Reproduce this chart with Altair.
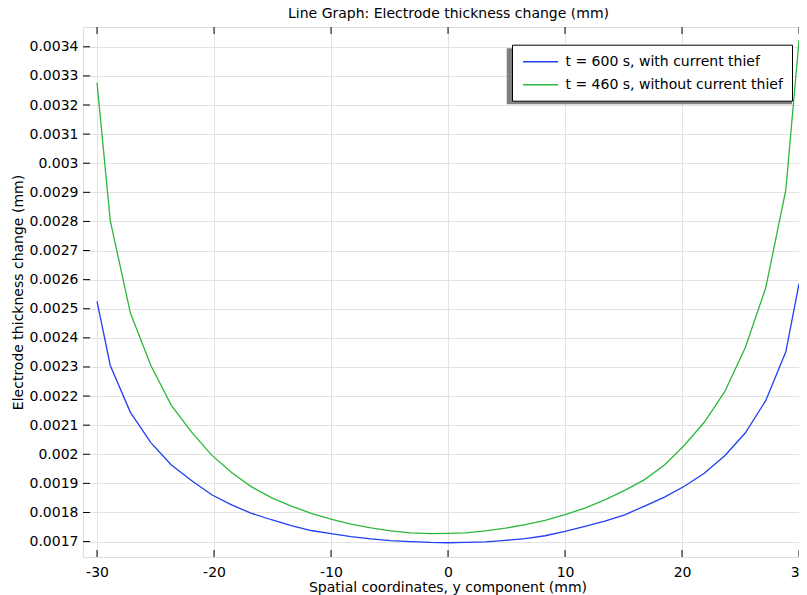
import altair as alt
import pandas as pd

# ---- data ----
x_pos = [-30, -28.87, -27.15, -25.4, -23.65, -21.9, -20.2, -18.5, -16.8, -15.1, -13.4,
         -11.7, -10, -8.3, -6.6, -4.9, -3.2, -1.5, 0, 1.5, 3.2, 4.9, 6.6, 8.3, 10,
         11.7, 13.4, 15.1, 16.8, 18.5, 20.2, 21.9, 23.65, 25.4, 27.15, 28.87, 30]

with_thief = [0.002525, 0.002305, 0.002144, 0.00204, 0.001963, 0.001909, 0.001861,
              0.001826, 0.001797, 0.001775, 0.001755, 0.001738, 0.001727, 0.001717,
              0.001709, 0.001703, 0.0017, 0.001697, 0.001696, 0.001697, 0.001699,
              0.001704, 0.00171, 0.00172, 0.001735, 0.001752, 0.00177, 0.001792,
              0.001822, 0.001853, 0.00189, 0.001935, 0.001995, 0.002073, 0.002184,
              0.002352, 0.002586]

without_thief = [0.003276, 0.002803, 0.002485, 0.002305, 0.002168, 0.002075, 0.001997,
                 0.001937, 0.001888, 0.001851, 0.001822, 0.001797, 0.001777, 0.00176,
                 0.001747, 0.001737, 0.00173, 0.001727, 0.001728, 0.00173, 0.001737,
                 0.001746, 0.001758, 0.001773, 0.001793, 0.001815, 0.001843, 0.001876,
                 0.001913, 0.001963, 0.002031, 0.00211, 0.002215, 0.002366, 0.002571,
                 0.002908, 0.003423]

series_names = ["t = 600 s, with current thief", "t = 460 s, without current thief"]
series_colors = ["#1f3ff2", "#2cb83c"]

x_ticks = [-30, -20, -10, 0, 10, 20, 30]
y_ticks = [0.0017, 0.0018, 0.0019, 0.002, 0.0021, 0.0022, 0.0023, 0.0024, 0.0025,
           0.0026, 0.0027, 0.0028, 0.0029, 0.003, 0.0031, 0.0032, 0.0033, 0.0034]

title_text = "Line Graph: Electrode thickness change (mm)"
x_title = "Spatial coordinates, y component (mm)"
y_title = "Electrode thickness change (mm)"

# ---- layout ----
W, H = 724, 530
FONT = "DejaVu Sans"
x_dom = [-31.2, 30.68]
y_dom = [0.001647, 0.003468]

rows = []
for name, vals in zip(series_names, [with_thief, without_thief]):
    for xv, yv in zip(x_pos, vals):
        rows.append({"x": xv, "y": yv, "series": name})
df = pd.DataFrame(rows)

xs = alt.Scale(domain=x_dom, nice=False, zero=False)
ys = alt.Scale(domain=y_dom, nice=False, zero=False)

x_axis = alt.Axis(
    values=x_ticks, title=x_title, grid=True, ticks=False, tickSize=0,
    domain=False, labelOverlap=False,
    labelExpr="'' + datum.value", labelPadding=8, labelFontSize=14,
    labelFont=FONT, labelColor="black", titleFont=FONT, titleFontSize=14,
    titleFontWeight="normal", titleColor="black", titleX=364.5, titleY=34,
    titleBaseline="alphabetic", titleAlign="center", gridColor="#e2e2e2")
y_axis = alt.Axis(
    values=y_ticks, title=y_title, grid=True, ticks=False, tickSize=0,
    domain=False, labelOverlap=False,
    format="~g", labelPadding=5, labelFontSize=14, labelFont=FONT,
    labelColor="black", titleFont=FONT, titleFontSize=14,
    titleFontWeight="normal", titleColor="black", titleX=-61,
    titleBaseline="alphabetic", titleAngle=-90, gridColor="#e2e2e2")

lines = alt.Chart(df).mark_line(strokeWidth=1.3, clip=True).encode(
    x=alt.X("x:Q", scale=xs, axis=x_axis),
    y=alt.Y("y:Q", scale=ys, axis=y_axis),
    color=alt.Color("series:N", sort=series_names,
                    scale=alt.Scale(domain=series_names, range=series_colors),
                    legend=alt.Legend(
                        title=None, orient="none", legendX=429, legendY=17.7,
                        fillColor="white", strokeColor="black", padding=9,
                        symbolType="M-2.5,0H2.5", symbolSize=196, symbolStrokeWidth=1.5,
                        symbolOffset=11.5, labelLimit=400,
                        labelFont=FONT, labelFontSize=14, labelColor="black",
                        labelOffset=17, rowPadding=8, offset=0)),
)

# legend drop shadow (decoration)
shadow = alt.Chart(pd.DataFrame({"k": [0]})).mark_rect(color="#808080").encode(
    x=alt.value(423.7), x2=alt.value(709), y=alt.value(21.3), y2=alt.value(77.3))

ytk = pd.DataFrame({"v": y_ticks})
xtk = pd.DataFrame({"v": x_ticks})
left_ticks = alt.Chart(ytk).mark_rule(color="black", strokeWidth=1).encode(
    y=alt.Y("v:Q", scale=ys, axis=y_axis), x=alt.value(0), x2=alt.value(7))
bottom_ticks = alt.Chart(xtk).mark_rule(color="black", strokeWidth=1).encode(
    x=alt.X("v:Q", scale=xs, axis=x_axis), y=alt.value(H), y2=alt.value(H - 7))
top_ticks = alt.Chart(xtk).mark_rule(color="black", strokeWidth=1).encode(
    x=alt.X("v:Q", scale=xs, axis=x_axis), y=alt.value(0), y2=alt.value(7))

chart = alt.layer(shadow, lines, left_ticks, bottom_ticks, top_ticks).properties(
    width=W, height=H,
    title=alt.TitleParams(title_text, font=FONT, fontSize=14, fontWeight="normal",
                          color="black", anchor="middle", baseline="bottom",
                          offset=5, dx=3.5, dy=13.5),
    autosize=alt.AutoSizeParams(type="none"),
    padding={"left": 75, "top": 19, "right": -8, "bottom": 38},
).configure_view(stroke="black", strokeWidth=1).configure(background="white")

chart.save("out.html", embed_options={"renderer": "svg", "actions": False})
